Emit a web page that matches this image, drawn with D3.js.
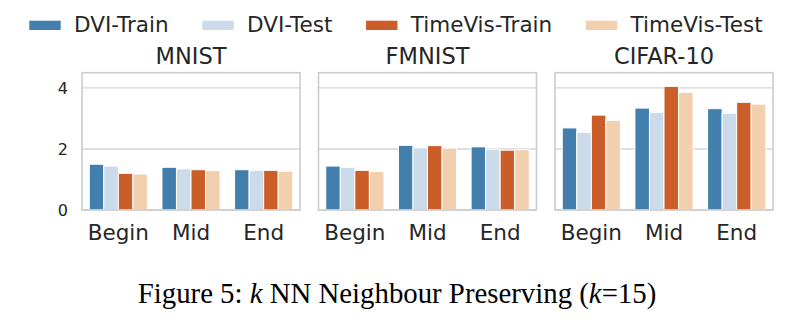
<!DOCTYPE html>
<html><head><meta charset="utf-8">
<script src="https://cdn.jsdelivr.net/npm/d3@7"></script>
<style>body{margin:0;background:#fff}svg{display:block}</style>
</head><body>
<svg id="c" width="800" height="326"></svg>
<script>
const datasets = ["MNIST", "FMNIST", "CIFAR-10"];
const stages = ["Begin", "Mid", "End"];
const seriesNames = ["DVI-Train", "DVI-Test", "TimeVis-Train", "TimeVis-Test"];
const seriesColors = ["#437fac", "#cbdbea", "#cb5e28", "#f2d0ad"];
// values[series] for Begin, Mid, End
const mnistValues = [[1.50, 1.40, 1.32], [1.44, 1.35, 1.30], [1.20, 1.32, 1.30], [1.18, 1.29, 1.27]];
const fmnistValues = [[1.44, 2.12, 2.07], [1.40, 2.04, 1.99], [1.30, 2.11, 1.96], [1.26, 2.03, 1.98]];
const cifarValues = [[2.69, 3.34, 3.32], [2.54, 3.20, 3.17], [3.11, 4.05, 3.53], [2.94, 3.86, 3.47]];
const yTicks = [0, 2, 4];
const caption = "Figure 5: ";

const allValues = [mnistValues, fmnistValues, cifarValues];
const svg = d3.select("#c");
const font = "DejaVu Sans, sans-serif";
const textCol = "#262626";
const panels = [[82, 300], [318.5, 536.5], [555, 773]];
const plotTop = 72.7, plotBottom = 210;
const y = d3.scaleLinear().domain([0, 4.5]).range([plotBottom, plotTop]);

datasets.forEach((name, pi) => {
  const [x0, x1] = panels[pi];
  const g = svg.append("g");
  const x = d3.scaleBand().domain(stages).range([x0, x1]).paddingInner(0).paddingOuter(0);
  const xs = d3.scaleBand().domain(seriesNames).range([0, x.bandwidth() * 0.8]);
  g.selectAll("line.grid").data(yTicks).join("line")
    .attr("x1", x0).attr("x2", x1).attr("y1", d => y(d)).attr("y2", d => y(d))
    .attr("stroke", "#d4d4d4").attr("stroke-width", 1.3);
  seriesNames.forEach((s, si) => {
    g.selectAll(null).data(stages).join("rect")
      .attr("x", d => x(d) + x.bandwidth() * 0.1 + xs(s))
      .attr("width", xs.bandwidth())
      .attr("y", (d, i) => y(allValues[pi][si][i]))
      .attr("height", (d, i) => y(0) - y(allValues[pi][si][i]))
      .attr("fill", seriesColors[si])
      .attr("stroke", "#fff").attr("stroke-width", 1);
  });
  g.append("rect").attr("x", x0).attr("y", plotTop).attr("width", x1 - x0).attr("height", plotBottom - plotTop)
    .attr("fill", "none").attr("stroke", "#cccccc").attr("stroke-width", 1.6);
  g.append("text").attr("x", (x0 + x1) / 2).attr("y", 64).attr("text-anchor", "middle")
    .attr("font-family", font).attr("font-size", 22.5).attr("fill", textCol).text(name);
  const xa = d3.axisBottom(x).tickSize(0).tickPadding(0);
  const ax = g.append("g").attr("transform", `translate(0,${plotBottom})`).call(xa);
  ax.select(".domain").remove();
  ax.selectAll("text").attr("y", 29.5).attr("dy", 0).attr("font-family", font).attr("font-size", 21.5).attr("fill", textCol);
  if (pi === 0) {
    const ya = d3.axisLeft(y).tickValues(yTicks).tickFormat(d3.format("d")).tickSize(0).tickPadding(14);
    const ay = g.append("g").attr("transform", `translate(${x0},0)`).call(ya);
    ay.select(".domain").remove();
    ay.selectAll("text").attr("font-family", font).attr("font-size", 16).attr("fill", textCol);
  }
});

let lx = 29.3;
seriesNames.forEach((s, si) => {
  svg.append("rect").attr("x", lx).attr("y", 20.7).attr("width", 31.4).attr("height", 9.3)
    .attr("fill", seriesColors[si]);
  const t = svg.append("text").attr("x", lx + 44.7).attr("y", 31.7)
    .attr("font-family", font).attr("font-size", 21.5).attr("fill", textCol).text(s);
  lx = lx + 44.7 + t.node().getComputedTextLength() + 33.7;
});

const cap = svg.append("text").attr("x", 397).attr("y", 303).attr("text-anchor", "middle")
  .attr("font-family", "Liberation Serif, Times New Roman, serif").attr("font-size", 28.8).attr("fill", "#000");
cap.append("tspan").text(caption);
cap.append("tspan").attr("font-style", "italic").text("k");
cap.append("tspan").text(" NN Neighbour Preserving (");
cap.append("tspan").attr("font-style", "italic").text("k");
cap.append("tspan").text("=15)");
</script>
</body></html>
